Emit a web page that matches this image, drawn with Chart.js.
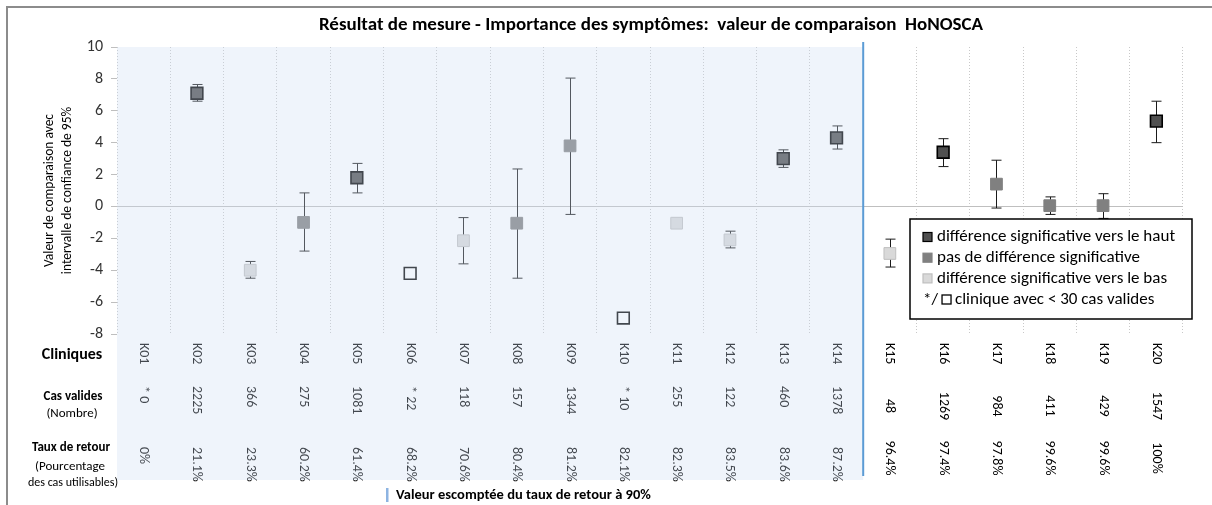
<!DOCTYPE html>
<html>
<head>
<meta charset="utf-8">
<script src="https://cdn.jsdelivr.net/npm/chart.js@4.4.1/dist/chart.umd.min.js"></script>
<style>
  html, body { margin: 0; padding: 0; background: #fff; }
  #wrap { width: 1212px; height: 505px; position: relative; }
</style>
</head>
<body>
<div id="wrap"><canvas id="chart" width="1212" height="505"></canvas></div>
<script>
const FONT = 'Carlito, Lato, "Open Sans", sans-serif';

const categories = ['K01', 'K02', 'K03', 'K04', 'K05', 'K06', 'K07', 'K08', 'K09', 'K10',
  'K11', 'K12', 'K13', 'K14', 'K15', 'K16', 'K17', 'K18', 'K19', 'K20'];
const values = [null, 7.1, -4.0, -1.0, 1.8, -4.2, -2.15, -1.05, 3.8, -7.0,
  -1.05, -2.1, 3.0, 4.3, -2.95, 3.4, 1.4, 0.05, 0.05, 5.35];
const lower = [null, 6.6, -4.5, -2.8, 0.85, null, -3.6, -4.5, -0.5, null,
  null, -2.6, 2.45, 3.6, -3.8, 2.5, -0.1, -0.5, -0.75, 4.0];
const upper = [null, 7.65, -3.45, 0.85, 2.7, null, -0.7, 2.35, 8.05, null,
  null, -1.55, 3.55, 5.05, -2.05, 4.25, 2.9, 0.6, 0.8, 6.6];
// haut = significativement plus haut, aucune = pas de différence, bas = plus bas, petit = < 30 cas
const groups = [null, 'haut', 'bas', 'aucune', 'haut', 'petit', 'bas', 'aucune', 'aucune', 'petit',
  'bas', 'bas', 'haut', 'haut', 'bas', 'haut', 'aucune', 'aucune', 'aucune', 'haut'];
const cases = [0, 2225, 366, 275, 1081, 22, 118, 157, 1344, 10,
  255, 122, 460, 1378, 48, 1269, 984, 411, 429, 1547];
const returnRates = [0, 21.1, 23.3, 60.2, 61.4, 68.2, 70.6, 80.4, 81.2, 82.1,
  82.3, 83.5, 83.6, 87.2, 96.4, 97.4, 97.8, 99.6, 99.6, 100];
const yTicks = { min: -8, max: 10, step: 2 };
const expectedCount = 14; // cliniques sous la valeur escomptée de 90%

const fill = { haut: '#505050', aucune: '#808080', bas: '#d9d9d9', petit: '#ffffff' };
const edge = { haut: '#000000', aucune: '#808080', bas: '#bfbfbf', petit: '#000000' };

const legendItems = [
  { g: 'haut', text: 'différence significative vers le haut' },
  { g: 'aucune', text: 'pas de différence significative' },
  { g: 'bas', text: 'différence significative vers le bas' }
];

function rotText(ctx, text, x, y, align) {
  ctx.save();
  ctx.translate(x, y);
  ctx.rotate(Math.PI / 2);
  ctx.textAlign = align;
  ctx.textBaseline = 'middle';
  ctx.fillText(text, 0, 0);
  ctx.restore();
}

const decor = {
  id: 'decor',
  beforeDraw(chart) {
    const ctx = chart.ctx;
    ctx.save();
    ctx.strokeStyle = '#8c8c8c';
    ctx.lineWidth = 2;
    ctx.beginPath();
    ctx.moveTo(7, 505); ctx.lineTo(7, 7); ctx.lineTo(1212, 7);
    ctx.stroke();
    ctx.fillStyle = '#000';
    ctx.font = 'bold 19px ' + FONT;
    ctx.textAlign = 'center';
    ctx.textBaseline = 'middle';
    ctx.fillText('Résultat de mesure - Importance des symptômes:  valeur de comparaison  HoNOSCA', 651, 25);
    ctx.restore();
  },
  beforeDatasetsDraw(chart) {
    const ctx = chart.ctx, xs = chart.scales.x, ys = chart.scales.y;
    ctx.save();
    ctx.lineWidth = 1;
    ctx.strokeStyle = '#1a1a1a';
    categories.forEach((c, i) => {
      if (lower[i] === null || upper[i] === null) return;
      const x = Math.round(xs.getPixelForValue(i)) + 0.5;
      const y1 = ys.getPixelForValue(lower[i]);
      const y2 = ys.getPixelForValue(upper[i]);
      ctx.beginPath();
      ctx.moveTo(x, y1); ctx.lineTo(x, y2);
      ctx.moveTo(x - 5, y1); ctx.lineTo(x + 5, y1);
      ctx.moveTo(x - 5, y2); ctx.lineTo(x + 5, y2);
      ctx.stroke();
    });
    ctx.restore();
  },
  afterDatasetsDraw(chart) {
    const ctx = chart.ctx, xs = chart.scales.x, area = chart.chartArea;
    const band = xs.getPixelForValue(1) - xs.getPixelForValue(0);
    ctx.save();
    ctx.fillStyle = '#000';

    // tableau sous le graphique
    categories.forEach((c, i) => {
      const x = xs.getPixelForValue(i);
      const left = i < expectedCount;
      ctx.font = '14px ' + FONT;
      rotText(ctx, c, x, 343, 'left');
      const n = cases[i] < 30 ? '* ' + cases[i] : String(cases[i]);
      const r = returnRates[i] % 1 === 0 ? returnRates[i] + '%' : returnRates[i].toFixed(1) + '%';
      if (left) {
        rotText(ctx, n, x, 386, 'left');
        rotText(ctx, r, x, 447, 'left');
      } else {
        rotText(ctx, n, x, 406, 'center');
        rotText(ctx, r, x, 458, 'center');
      }
    });

    ctx.textAlign = 'center';
    ctx.textBaseline = 'middle';
    ctx.font = 'bold 16px ' + FONT;
    ctx.fillText('Cliniques', 72, 355);
    ctx.font = 'bold 13px ' + FONT;
    ctx.fillText('Cas valides', 73, 397);
    ctx.font = '13px ' + FONT;
    ctx.fillText('(Nombre)', 72, 414);
    ctx.font = 'bold 13px ' + FONT;
    ctx.fillText('Taux de retour', 71, 448);
    ctx.font = '13px ' + FONT;
    ctx.fillText('(Pourcentage', 70, 467);
    ctx.font = '12px ' + FONT;
    ctx.fillText('des cas utilisables)', 73, 483);

    // zone sous la valeur escomptée
    const xb = xs.getPixelForValue(expectedCount - 1) + band / 2;
    ctx.fillStyle = 'rgba(205, 222, 243, 0.32)';
    ctx.fillRect(area.left, area.top, xb - area.left, 480 - area.top);
    ctx.strokeStyle = '#5b9bd5';
    ctx.lineWidth = 2;
    ctx.beginPath();
    ctx.moveTo(xb, area.top - 5); ctx.lineTo(xb, 476);
    ctx.stroke();

    ctx.fillStyle = '#8db4e2';
    ctx.fillRect(386, 488, 2.5, 14);
    ctx.fillStyle = '#000';
    ctx.textAlign = 'left';
    ctx.font = 'bold 14.5px ' + FONT;
    ctx.fillText('Valeur escomptée du taux de retour à 90%', 396, 495);

    // légende
    ctx.fillStyle = '#fff';
    ctx.fillRect(910, 219, 282, 100);
    ctx.strokeStyle = '#000';
    ctx.lineWidth = 1.5;
    ctx.strokeRect(910, 219, 282, 100);
    ctx.font = '17px ' + FONT;
    legendItems.forEach((it, k) => {
      const y = 237 + k * 20.7;
      ctx.fillStyle = fill[it.g];
      ctx.fillRect(923, y - 4.5, 9, 9);
      ctx.strokeStyle = edge[it.g];
      ctx.lineWidth = 1.2;
      ctx.strokeRect(923, y - 4.5, 9, 9);
      ctx.fillStyle = '#000';
      ctx.fillText(it.text, 937, y);
    });
    const y4 = 299.5;
    ctx.fillText('*/', 923, y4);
    const sx = 923 + ctx.measureText('*/').width + 4;
    ctx.strokeStyle = '#000';
    ctx.lineWidth = 1.3;
    ctx.strokeRect(sx, y4 - 4.5, 9, 9);
    ctx.fillText('clinique avec < 30 cas valides', sx + 13, y4);
    ctx.restore();
  }
};

new Chart(document.getElementById('chart'), {
  type: 'line',
  data: {
    labels: categories,
    datasets: [{
      data: values,
      showLine: false,
      pointStyle: 'rect',
      pointRadius: 8.3,
      pointHoverRadius: 8.3,
      pointBorderWidth: ctx => (groups[ctx.dataIndex] === 'haut' || groups[ctx.dataIndex] === 'petit') ? 1.6 : 1,
      pointBackgroundColor: ctx => fill[groups[ctx.dataIndex]] || '#fff',
      pointBorderColor: ctx => edge[groups[ctx.dataIndex]] || '#000'
    }]
  },
  options: {
    responsive: false,
    animation: false,
    layout: { padding: { left: 0, right: 29, top: 47, bottom: 171 } },
    plugins: {
      legend: { display: false },
      title: { display: false },
      tooltip: { enabled: false }
    },
    scales: {
      x: {
        type: 'category',
        offset: true,
        ticks: { display: false },
        border: { display: false, dash: [1, 2] },
        grid: {
          offset: true,
          drawTicks: false,
          color: '#c8c8c8'
        }
      },
      y: {
        min: yTicks.min,
        max: yTicks.max,
        afterFit(scale) { scale.width = 117; },
        ticks: {
          stepSize: yTicks.step,
          color: '#333',
          padding: 8,
          font: { family: FONT, size: 16 }
        },
        border: { display: false },
        grid: {
          color: ctx => (ctx.tick && ctx.tick.value === 0) ? '#bfbfbf' : 'rgba(0,0,0,0)',
          tickColor: '#bfbfbf',
          tickLength: 6
        },
        title: {
          display: true,
          text: ['Valeur de comparaison avec', 'intervalle de confiance de 95%'],
          color: '#000',
          font: { family: FONT, size: 13.5, lineHeight: 1.3 },
          padding: { top: 41, bottom: 4 }
        }
      }
    }
  },
  plugins: [decor]
});
</script>
</body>
</html>
